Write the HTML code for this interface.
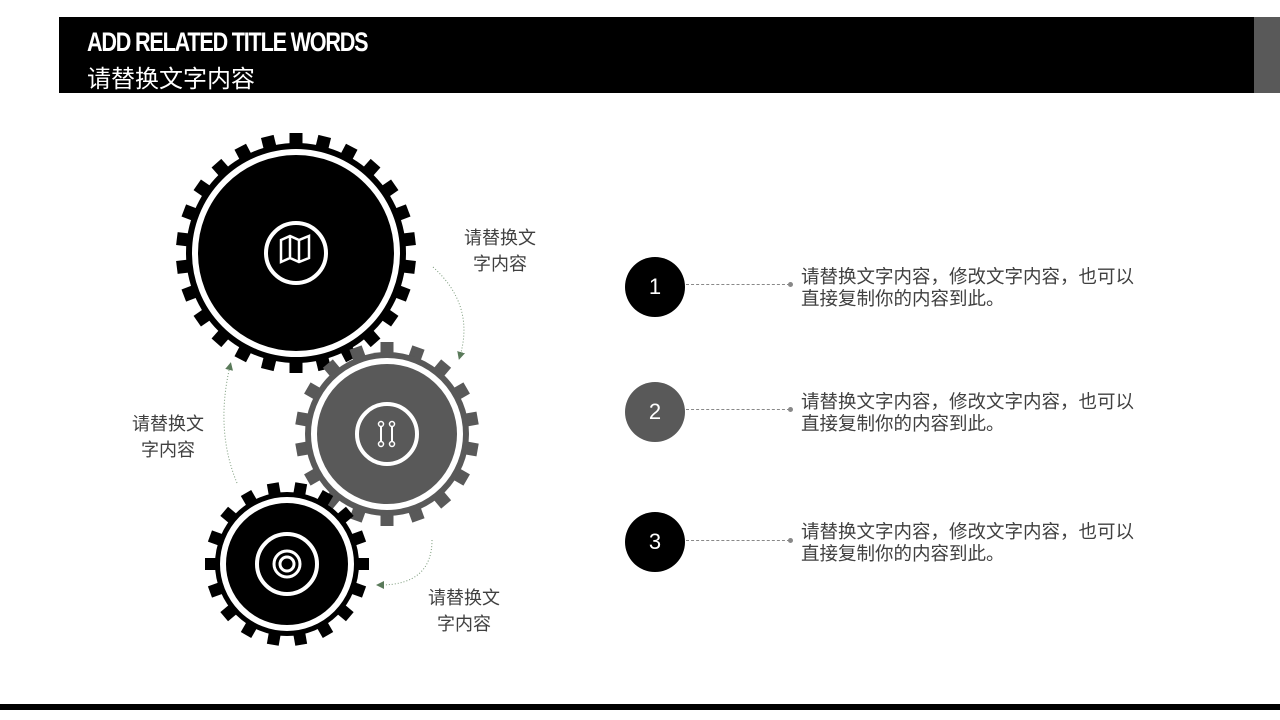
<!DOCTYPE html>
<html><head><meta charset="utf-8"><style>
body{margin:0;width:1280px;height:720px;background:#fff;position:relative;overflow:hidden;font-family:"Liberation Sans","Noto Sans CJK SC",sans-serif}
.hd{position:absolute;left:59px;top:17px;width:1195px;height:76px;background:#000}
.gr{position:absolute;left:1254px;top:17px;width:26px;height:76px;background:#595959}
.t1{position:absolute;left:87px;top:27px;color:#fff;font-size:27px;font-weight:bold;letter-spacing:-1.5px;transform:scaleX(0.8);transform-origin:left}
.t2{position:absolute;left:87px;top:59px;color:#fff;font-size:24px}
.lbl{position:absolute;color:#404040;font-size:18px;line-height:26px;text-align:center}
.num{position:absolute;width:60px;height:60px;border-radius:50%;color:#fff;font-size:22px;line-height:60px;text-align:center}
.dl{position:absolute;left:686px;width:104px;border-top:1px dashed #888}
.dot{position:absolute;left:788px;width:5px;height:5px;border-radius:50%;background:#888}
.tx{position:absolute;left:801px;font-size:18.5px;line-height:22px;color:#404040;width:380px}
.bot{position:absolute;left:0;top:704px;width:1280px;height:6px;background:#000}
</style></head><body>
<div class="hd"></div><div class="gr"></div>
<div class="t1">ADD RELATED TITLE WORDS</div>
<div class="t2">请替换文字内容</div>
<svg id="g" width="1280" height="720" style="position:absolute;left:0;top:0">
<defs><marker id="ar" markerWidth="8" markerHeight="8" refX="4" refY="4" orient="auto"><path d="M0,0 L8,4 L0,8z" fill="#5a7a5a"/></marker></defs>
<path d="M433,267 Q475,305 460,356" fill="none" stroke="#7a9a7a" stroke-dasharray="1,2" marker-end="url(#ar)"/>
<path d="M237,483 Q215,430 230,366" fill="none" stroke="#7a9a7a" stroke-dasharray="1,2" marker-end="url(#ar)"/>
<path d="M432,540 Q432,585 380,585" fill="none" stroke="#7a9a7a" stroke-dasharray="1,2" marker-end="url(#ar)"/>
</svg>
<div class="lbl" style="left:464px;top:225px">请替换文<br>字内容</div>
<div class="lbl" style="left:132px;top:411px">请替换文<br>字内容</div>
<div class="lbl" style="left:428px;top:585px">请替换文<br>字内容</div>
<div class="num" style="left:625px;top:257px;background:#000">1</div>
<div class="num" style="left:625px;top:382px;background:#595959">2</div>
<div class="num" style="left:625px;top:512px;background:#000">3</div>
<div class="dl" style="top:284px"></div><div class="dot" style="top:282px"></div>
<div class="dl" style="top:409px"></div><div class="dot" style="top:407px"></div>
<div class="dl" style="top:540px"></div><div class="dot" style="top:538px"></div>
<div class="tx" style="top:266px">请替换文字内容，修改文字内容，也可以<br>直接复制你的内容到此。</div>
<div class="tx" style="top:391px">请替换文字内容，修改文字内容，也可以<br>直接复制你的内容到此。</div>
<div class="tx" style="top:521px">请替换文字内容，修改文字内容，也可以<br>直接复制你的内容到此。</div>
<div class="bot"></div>
<script>
var s=document.getElementById('g'),ns='http://www.w3.org/2000/svg';
function el(t,a){var e=document.createElementNS(ns,t);for(var k in a)e.setAttribute(k,a[k]);s.appendChild(e);return e}
function gear(cx,cy,ro,rb,rr,n,c,tw,off){
 for(var i=0;i<n;i++){var a=360*i/n+off;el('rect',{x:cx-tw/2,y:cy-ro,width:tw,height:ro-rb+4,fill:c,transform:'rotate('+a+' '+cx+' '+cy+')'})}
 el('circle',{cx:cx,cy:cy,r:rb,fill:c});
 el('circle',{cx:cx,cy:cy,r:rr,fill:'none',stroke:'#fff','stroke-width':6});
 el('circle',{cx:cx,cy:cy,r:30,fill:'none',stroke:'#fff','stroke-width':4});
}
gear(296,253,120,110,101,26,'#000',13,0);
gear(387,434,92,82,73,18,'#595959',13,0);
gear(287,564,82,72,64,18,'#000',12,10);
el('path',{d:'M281,240 L290,236 L299,240 L309,236 L309,258 L299,262 L290,258 L281,262 Z M290,236 L290,258 M299,240 L299,262',fill:'none',stroke:'#fff','stroke-width':2.5});
el('path',{d:'M381,426 L381,442 M392,426 L392,442',stroke:'#fff','stroke-width':2});
[[381,424],[392,424],[381,444],[392,444]].forEach(function(p){el('circle',{cx:p[0],cy:p[1],r:2.5,fill:'none',stroke:'#fff','stroke-width':1.5})});
el('circle',{cx:287,cy:564,r:13,fill:'none',stroke:'#fff','stroke-width':3});
el('circle',{cx:287,cy:564,r:7,fill:'none',stroke:'#fff','stroke-width':3});
</script>
</body></html>
